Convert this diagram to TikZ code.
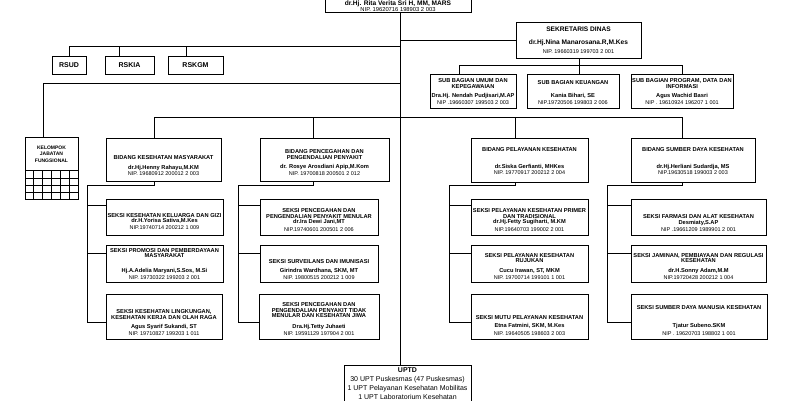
\documentclass[tikz,border=0pt]{standalone}
\usepackage{fontspec}
\setmainfont{Liberation Sans}
\newcommand\orgbox[5]{\node[box,minimum width={#4-#2},minimum height={#5-#3}] (#1) at ({(#2+#4)/2},{(#3+#5)/2}) {};}
\begin{document}
\begin{tikzpicture}[x=1pt,y=-1pt,
 box/.style={draw,line width=0.75pt,inner sep=0pt,outer sep=0pt},
 conn/.style={line width=0.75pt},
 tb/.style={font=\fontsize{5.7}{6}\selectfont\bfseries,inner sep=0pt,text height=4pt,text depth=0pt},
 tr/.style={font=\fontsize{5.5}{6}\selectfont,inner sep=0pt,text height=4pt,text depth=0pt},
 tbl/.style={font=\fontsize{6.6}{7}\selectfont\bfseries,inner sep=0pt,text height=4.8pt,text depth=0pt},
 trl/.style={font=\fontsize{7}{8}\selectfont,inner sep=0pt,text height=5pt,text depth=0pt},
 tbh/.style={font=\fontsize{7}{8}\selectfont\bfseries,inner sep=0pt,text height=5pt,text depth=0pt},
 tbs/.style={font=\fontsize{5}{6}\selectfont\bfseries,inner sep=0pt,text height=3.6pt,text depth=0pt},
]
\clip (0,0) rectangle (800,400);
\fill[white] (0,0) rectangle (800,400);

% ---------- boxes ----------
\orgbox{kadin}{325}{-25}{471}{12.7}
\orgbox{sek}{516}{22}{641}{58}
\orgbox{rsud}{52}{56}{86}{74}
\orgbox{rskia}{105}{56}{154}{74}
\orgbox{rskgm}{168}{56}{223}{74}
\orgbox{kjf}{25}{137}{78}{199}
\orgbox{umum}{430}{74}{516}{108}
\orgbox{keu}{527}{74}{619}{108}
\orgbox{prog}{631}{74}{733}{108}
\orgbox{bkm}{106}{138}{221}{181}
\orgbox{bp2p}{260}{138}{389}{181}
\orgbox{byan}{471}{138}{588}{182}
\orgbox{bsdk}{631}{138}{755}{182}
\orgbox{kesga}{106}{199}{223}{235}
\orgbox{promosi}{106}{245}{223}{282}
\orgbox{kesling}{106}{294}{222}{339}
\orgbox{p2pm}{260}{199}{378}{235}
\orgbox{surv}{260}{245}{378}{282}
\orgbox{ptm}{259}{294}{379}{339}
\orgbox{primer}{471}{199}{588}{235}
\orgbox{rujukan}{471}{245}{588}{282}
\orgbox{mutu}{471}{294}{588}{339}
\orgbox{farmasi}{631}{199}{766}{235}
\orgbox{jaminan}{631}{245}{766}{282}
\orgbox{sdm}{631}{294}{767}{339}
\orgbox{uptd}{344}{365}{471}{425}

% grid of kelompok jabatan fungsional
\foreach \yy in {170.7,178,185.3,192.3} \draw[conn] (kjf.west |- 0,\yy) -- (kjf.east |- 0,\yy);
\foreach \xx in {33.8,42.6,51.4,60.2,69} \draw[conn] (\xx,170.7) -- (kjf.south -| \xx,0);

% ---------- connector positions ----------
\coordinate (vT) at (400,0);
\coordinate (vRSUD) at (69,0);
\coordinate (vRSKIA) at (119,0);
\coordinate (vRSKGM) at (186,0);
\coordinate (vKJF) at (43,0);
\coordinate (hH) at (0,46);
\coordinate (hK) at (0,83);
\coordinate (hSB) at (0,65);
\coordinate (hB) at (0,117);
\coordinate (vSek) at (579,0);
\coordinate (vUmum) at (459,0);
\coordinate (vProg) at (682,0);
\coordinate (vB1) at (154,0);
\coordinate (vB2) at (313,0);
\coordinate (vB3) at (515,0);
\coordinate (vB4) at (682,0);
\coordinate (vS1) at (87,0);
\coordinate (vS2) at (238,0);
\coordinate (vS3) at (449,0);
\coordinate (vS4) at (607,0);
\coordinate (hD) at (0,185.5);
\coordinate (hL1) at (0,205);
\coordinate (hL2) at (0,253);
\coordinate (hL3) at (0,322);

% ---------- connectors ----------
\draw[conn] (kadin.south -| vT) -- (uptd.north -| vT);
\draw[conn] (rsud.north -| vRSUD) -- (vRSUD |- hH) -- (vT |- hH);
\draw[conn] (rskia.north -| vRSKIA) -- (vRSKIA |- hH);
\draw[conn] (rskgm.north -| vRSKGM) -- (vRSKGM |- hH);
\draw[conn] (kjf.north -| vKJF) -- (vKJF |- hK) -- (vT |- hK);
\draw[conn] (sek.west) -- (sek.west -| vT);
\draw[conn] (sek.south -| vSek) -- (vSek |- hSB);
\draw[conn] (umum.north -| vUmum) -- (vUmum |- hSB) -- (vProg |- hSB) -- (prog.north -| vProg);
\draw[conn] (keu.north -| vSek) -- (vSek |- hSB);
\draw[conn] (bkm.north -| vB1) -- (vB1 |- hB) -- (vB4 |- hB) -- (bsdk.north -| vB4);
\draw[conn] (bp2p.north -| vB2) -- (vB2 |- hB);
\draw[conn] (byan.north -| vB3) -- (vB3 |- hB);
% column spines
\draw[conn] (bkm.south -| vB1) -- (vB1 |- hD) -- (vS1 |- hD) -- (vS1 |- hL3);
\draw[conn] (bp2p.south -| vB2) -- (vB2 |- hD) -- (vS2 |- hD) -- (vS2 |- hL3);
\draw[conn] (byan.south -| vB3) -- (vB3 |- hD) -- (vS3 |- hD) -- (vS3 |- hL3);
\draw[conn] (bsdk.south -| vB4) -- (vB4 |- hD) -- (vS4 |- hD) -- (vS4 |- hL3);
\draw[conn] (kesga.west |- hL1) -- (vS1 |- hL1);
\draw[conn] (promosi.west |- hL2) -- (vS1 |- hL2);
\draw[conn] (kesling.west |- hL3) -- (vS1 |- hL3);
\draw[conn] (p2pm.west |- hL1) -- (vS2 |- hL1);
\draw[conn] (surv.west |- hL2) -- (vS2 |- hL2);
\draw[conn] (ptm.west |- hL3) -- (vS2 |- hL3);
\draw[conn] (primer.west |- hL1) -- (vS3 |- hL1);
\draw[conn] (rujukan.west |- hL2) -- (vS3 |- hL2);
\draw[conn] (mutu.west |- hL3) -- (vS3 |- hL3);
\draw[conn] (farmasi.west |- hL1) -- (vS4 |- hL1);
\draw[conn] (jaminan.west |- hL2) -- (vS4 |- hL2);
\draw[conn] (sdm.west |- hL3) -- (vS4 |- hL3);

% ---------- texts ----------
\node[tbl] (kadin-a) at (398,2.6) {dr.Hj. Rita Verita Sri H, MM, MARS};
\node[tr,font=\fontsize{5.8}{6}\selectfont] (kadin-b) at (398,9.2) {NIP. 19620716 198903 2 003};

\node[tbl] (sek-a) at (578.5,29) {SEKRETARIS DINAS};
\node[tbl] (sek-b) at (578.5,42) {dr.Hj.Nina Manarosana.R,M.Kes};
\node[tr] (sek-c) at (578.5,51) {NIP. 19660319 199703 2 001};

\node[tbh] (rsud-a) at (69,65) {RSUD};
\node[tbh] (rskia-a) at (129.5,65) {RSKIA};
\node[tbh] (rskgm-a) at (195.5,65) {RSKGM};

\node[tbs] (kjf-a) at (51.5,147.5) {KELOMPOK};
\node[tbs] (kjf-b) at (51.5,154) {JABATAN};
\node[tbs] (kjf-c) at (51.5,160.5) {FUNGSIONAL};

\node[tb] (umum-a) at (473,80.7) {SUB BAGIAN UMUM DAN};
\node[tb] (umum-b) at (473,86.7) {KEPEGAWAIAN};
\node[tb] (umum-c) at (473,95.3) {Dra.Hj. Nendah Pudjisari,M.AP};
\node[tr] (umum-d) at (473,102.7) {NIP .19660307 199503 2 003};

\node[tb] (keu-a) at (573,82.7) {SUB BAGIAN KEUANGAN};
\node[tb] (keu-b) at (573,95.3) {Kania Bihari, SE};
\node[tr] (keu-c) at (573,102.7) {NIP.19720506 199803 2 006};

\node[tb] (prog-a) at (682,80.7) {SUB BAGIAN PROGRAM, DATA DAN};
\node[tb] (prog-b) at (682,86.7) {INFORMASI};
\node[tb] (prog-c) at (682,95.3) {Agus Wachid Basri};
\node[tr] (prog-d) at (682,102.7) {NIP . 19610924 196207 1 001};

\node[tb] (bkm-a) at (163.5,157) {BIDANG KESEHATAN MASYARAKAT};
\node[tb] (bkm-b) at (163.5,167.3) {dr.Hj.Henny Rahayu,M.KM};
\node[tr] (bkm-c) at (163.5,173.3) {NIP. 19680912 200012 2 003};

\node[tb] (bp2p-a) at (324.5,151.7) {BIDANG PENCEGAHAN DAN};
\node[tb] (bp2p-b) at (324.5,157.7) {PENGENDALIAN PENYAKIT};
\node[tb] (bp2p-c) at (324.5,166.7) {dr. Rosye Arosdiani Apip,M.Kom};
\node[tr] (bp2p-d) at (324.5,173.3) {NIP. 19700818 200501 2 012};

\node[tb] (byan-a) at (529.5,149.3) {BIDANG PELAYANAN KESEHATAN};
\node[tb] (byan-b) at (529.5,166.7) {dr.Siska Gerfianti, MHKes};
\node[tr] (byan-c) at (529.5,172.3) {NIP. 19770917 200212 2 004};

\node[tb] (bsdk-a) at (693,149.3) {BIDANG SUMBER DAYA KESEHATAN};
\node[tb] (bsdk-b) at (693,166.7) {dr.Hj.Herliani Sudardja, MS};
\node[tr] (bsdk-c) at (693,172.3) {NIP.19630518 199003 2 003};

\node[tb] (kesga-a) at (164.5,215) {SEKSI KESEHATAN KELUARGA DAN GIZI};
\node[tb] (kesga-b) at (164.5,220.5) {dr.H.Yorisa Sativa,M.Kes};
\node[tr] (kesga-c) at (164.5,227.7) {NIP.19740714 200212 1 009};

\node[tb] (promosi-a) at (164.5,250) {SEKSI PROMOSI DAN PEMBERDAYAAN};
\node[tb] (promosi-b) at (164.5,255.7) {MASYARAKAT};
\node[tb] (promosi-c) at (164.5,270) {Hj.A.Adelia Maryani,S.Sos, M.Si};
\node[tr] (promosi-d) at (164.5,277.3) {NIP. 19730322 199203 2 001};

\node[tb] (kesling-a) at (164,311) {SEKSI KESEHATAN LINGKUNGAN,};
\node[tb] (kesling-b) at (164,317.3) {KESEHATAN KERJA DAN OLAH RAGA};
\node[tb] (kesling-c) at (164,326) {Agus Syarif Sukandi, ST};
\node[tr] (kesling-d) at (164,333.3) {NIP. 19710827 199203 1 011};

\node[tb] (p2pm-a) at (319,210) {SEKSI PENCEGAHAN DAN};
\node[tb] (p2pm-b) at (319,216) {PENGENDALIAN PENYAKIT MENULAR};
\node[tb] (p2pm-c) at (319,221.7) {dr.Ira Dewi Jani,MT};
\node[tr] (p2pm-d) at (319,229.3) {NIP.19740601 200501 2 006};

\node[tb] (surv-a) at (319,261.7) {SEKSI SURVEILANS DAN IMUNISASI};
\node[tb] (surv-b) at (319,270.5) {Girindra Wardhana, SKM, MT};
\node[tr] (surv-c) at (319,277.5) {NIP. 19800515 200212 1 009};

\node[tb] (ptm-a) at (319,304.3) {SEKSI PENCEGAHAN DAN};
\node[tb] (ptm-b) at (319,310) {PENGENDALIAN PENYAKIT TIDAK};
\node[tb] (ptm-c) at (319,315.7) {MENULAR DAN KESEHATAN JIWA};
\node[tb] (ptm-d) at (319,326) {Dra.Hj.Tetty Juhaeti};
\node[tr] (ptm-e) at (319,333.3) {NIP. 19591129 197904 2 001};

\node[tb] (primer-a) at (529.5,210.7) {SEKSI PELAYANAN KESEHATAN PRIMER};
\node[tb] (primer-b) at (529.5,216) {DAN TRADISIONAL};
\node[tb] (primer-c) at (529.5,221.7) {dr.Hj.Fetty Sugiharti, M.KM};
\node[tr] (primer-d) at (529.5,229.3) {NIP.19640703 199002 2 001};

\node[tb] (rujukan-a) at (529.5,255.7) {SEKSI PELAYANAN KESEHATAN};
\node[tb] (rujukan-b) at (529.5,260.7) {RUJUKAN};
\node[tb] (rujukan-c) at (529.5,270.5) {Cucu Irawan, ST, MKM};
\node[tr] (rujukan-d) at (529.5,277.5) {NIP. 19700714 199101 1 001};

\node[tb] (mutu-a) at (529.5,317.7) {SEKSI MUTU PELAYANAN KESEHATAN};
\node[tb] (mutu-b) at (529.5,325.7) {Etna Fatmini, SKM, M.Kes};
\node[tr] (mutu-c) at (529.5,333.3) {NIP. 19640505 198603 2 003};

\node[tb] (farmasi-a) at (698.5,216.7) {SEKSI FARMASI DAN ALAT KESEHATAN};
\node[tb] (farmasi-b) at (698.5,222) {Desmiaty,S.AP};
\node[tr] (farmasi-c) at (698.5,229.3) {NIP .19661209 1989901 2 001};

\node[tb] (jaminan-a) at (698.5,255.3) {SEKSI JAMINAN, PEMBIAYAAN DAN REGULASI};
\node[tb] (jaminan-b) at (698.5,260.7) {KESEHATAN};
\node[tb] (jaminan-c) at (698.5,270.5) {dr.H.Sonny Adam,M.M};
\node[tr] (jaminan-d) at (698.5,277.5) {NIP.19720428 200212 1 004};

\node[tb] (sdm-a) at (699,307.7) {SEKSI SUMBER DAYA MANUSIA KESEHATAN};
\node[tb] (sdm-b) at (699,325) {Tjatur Subeno.SKM};
\node[tr] (sdm-c) at (699,333.3) {NIP . 19620703 198802 1 001};

\node[tbh] (uptd-a) at (407.5,370) {UPTD};
\node[trl] (uptd-b) at (407.5,379.3) {30 UPT Puskesmas (47 Puskesmas)};
\node[trl] (uptd-c) at (407.5,388.3) {1 UPT Pelayanan Kesehatan Mobilitas};
\node[trl] (uptd-d) at (407.5,396.7) {1 UPT Laboratorium Kesehatan};
\end{tikzpicture}
\end{document}
